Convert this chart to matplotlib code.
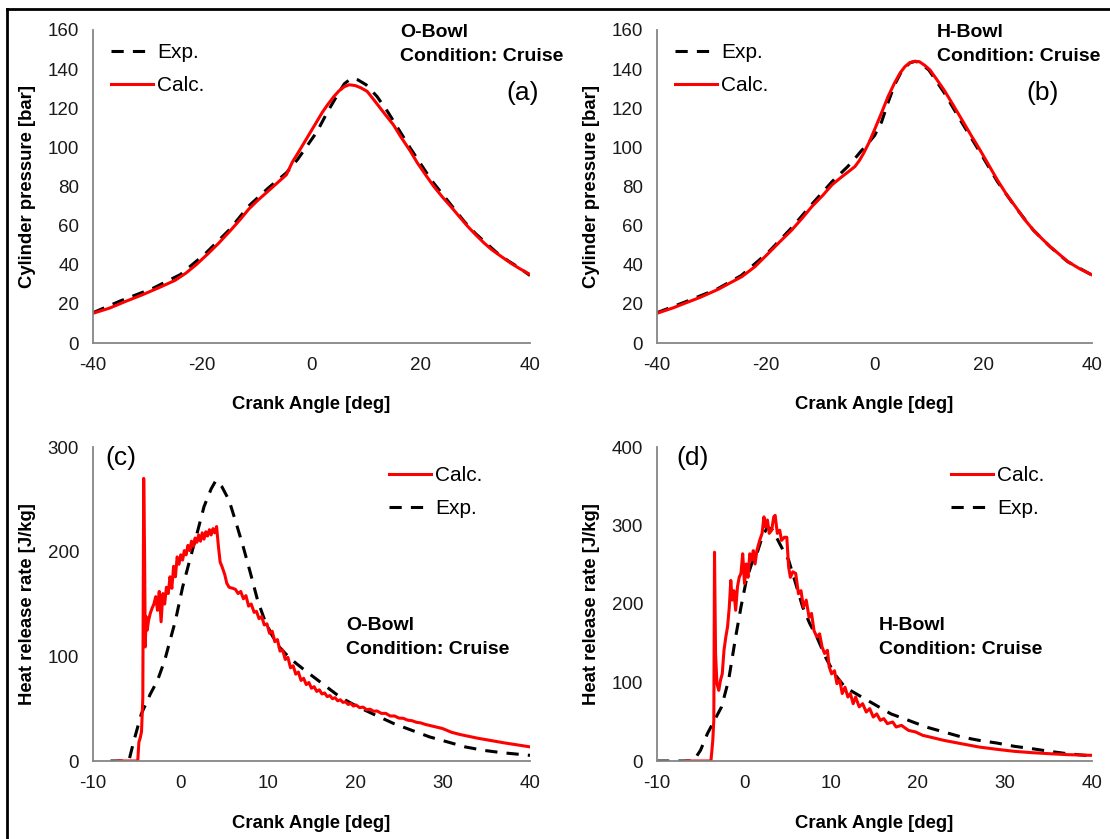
import matplotlib
matplotlib.use("Agg")
import matplotlib.pyplot as plt
from matplotlib.lines import Line2D

plt.rcParams['font.family'] = ['Liberation Sans', 'DejaVu Sans']
plt.rcParams['axes.unicode_minus'] = False

# ---- cylinder pressure, O-Bowl (a) ----
p_o_calc_deg = [-40, -37, -34, -31, -28, -25, -23, -21, -19, -17, -15, -13, -11.5, -10, -8, -6,
                -4.6, -3.5, -2.5, -1, 0.5, 2, 3, 4.1, 5, 6, 6.9, 8, 9, 10.2, 11.5, 13.3, 15,
                16.3, 18, 19.4, 21, 22.4, 24, 25.5, 27, 28.6, 30, 31.6, 33, 34.7, 36.5, 38, 40]
p_o_calc = [15.2, 17.8, 21.3, 24.6, 28.2, 32, 35.7, 40.3, 45.5, 51, 57, 63.3, 68.4, 72.5, 77.5, 82.5,
            86, 92.5, 97, 104, 111, 118, 122, 126, 128.8, 131, 132, 131.6, 130.5, 128.6, 124, 117.5, 111.5,
            105.6, 98.5, 92, 85.5, 80, 74.5, 69.8, 64.8, 59.6, 55.5, 51.1, 47.7, 44.3, 40.8, 38.2, 35]
p_o_exp_deg = [-40, -35, -29, -24, -19.5, -15, -11.5, -8, -4.6, -2.5, -1, 1, 3, 5, 6, 7.3, 8.5, 10,
               12, 14, 16, 18, 20, 22, 24, 26, 28, 30, 32, 34, 36, 38, 40]
p_o_exp = [15.5, 21.5, 28, 35, 45.5, 58, 70, 79, 87, 94, 100, 108, 118.5, 128, 132.5, 135.3, 134.5, 132,
           126, 118, 109, 100, 91.5, 83, 76, 69, 62, 56, 51, 46, 42, 38.5, 34.5]

# ---- cylinder pressure, H-Bowl (b) ----
p_h_calc_deg = [-40, -37, -34.8, -32, -28.7, -26.5, -24.4, -22, -19.5, -17.5, -15.2, -13.3, -11.5, -9.5,
                -7.8, -6, -4.5, -3.6, -2.8, -2, -1, 0, 1.2, 2.5, 3.7, 4.7, 5.6, 6.5, 7.3, 8.25, 9.2, 10.2,
                11.5, 12.8, 14.5, 16.1, 17.8, 19.4, 21, 22.6, 24.2, 25.9, 27.5, 29.2, 30.8, 32.3, 34, 35.5,
                37.7, 40]
p_h_calc = [15.2, 18, 20.4, 23.4, 27.5, 30.8, 33.9, 39, 45.9, 51.5, 57.8, 63.8, 69.8, 75.5,
            80.9, 85, 88.2, 90.2, 93.2, 97, 102.5, 109, 117, 126, 133, 138, 141.3, 143.3, 144, 143.8, 142, 139.6,
            134.5, 129.3, 121.5, 114, 106, 98.7, 91, 83.3, 76.3, 69.8, 63.5, 57.8, 53.3, 49.3, 45.3, 41.7,
            38, 34.8]
p_h_exp_deg = [-40, -35, -29, -24.5, -19.5, -15.2, -11.5, -7.8, -5, -4, -2.5, -1.5, 0, 1.3, 2.5, 3.7, 5,
               6.5, 7.5, 8.5, 10, 12.8, 16.1, 19.4, 22.6, 25.9, 29.2, 32.3, 35.5, 40]
p_h_exp = [15.5, 20.8, 27.5, 34.5, 46.5, 59, 71, 82.5, 90, 93, 98, 101, 106, 113, 123, 132, 139,
           143.2, 144, 143, 139.5, 128, 112.5, 97.5, 82.5, 69.5, 57.7, 49.2, 41.6, 34.7]

# ---- heat release rate, O-Bowl (c) ----
q_o_calc_deg = [-7.1, -4.88, -4.75, -4.6, -4.45, -4.3, -4.2, -4.1, -4.02, -3.93, -3.8, -3.65, -3.45, -3.24,
                -3.03, -2.82, -2.62, -2.42, -2.21, -2.0, -1.8, -1.6, -1.39, -1.19, -0.98, -0.78, -0.57,
                -0.37, -0.16, 0.04, 0.25, 0.45, 0.65, 0.86, 1.07, 1.27, 1.48, 1.68, 1.89, 2.09, 2.3, 2.5,
                2.7, 2.91, 3.11, 3.32, 3.52, 3.73, 3.93, 4.14, 4.35, 4.55, 4.75, 5.08, 5.3, 5.57, 5.98,
                6.3, 6.6, 6.9, 7.21, 7.5, 7.8, 8.1, 8.44, 8.7, 9.0, 9.3, 9.6, 9.9, 10.2, 10.5, 10.8, 11.1,
                11.4, 11.7, 12.0, 12.3, 12.6, 12.9, 13.2, 13.5, 13.8, 14.1, 14.4, 14.7, 15.0, 15.3, 15.6,
                15.9, 16.2, 16.5, 16.8, 17.1, 17.4, 17.7, 18.0, 18.3, 18.6, 18.9, 19.2, 19.5, 19.8, 20.1,
                20.5, 20.9, 21.3, 21.7, 22.1, 22.5, 23, 23.5, 24, 24.5, 25, 25.5, 26, 26.5, 27, 27.5, 28,
                28.5, 29, 29.5, 30, 31, 32, 33, 34, 35, 36, 37, 38, 39, 40]
q_o_calc = [0, 0, 18, 22, 28, 60, 270, 200, 109, 138, 125, 134, 141, 146,
            150, 157, 144, 162, 133, 160, 150, 166, 160, 176, 165, 186, 176,
            195, 188, 197, 192, 201, 197, 206, 201, 210, 205, 213, 209, 216, 210, 218,
            212, 219, 215, 221, 216, 222, 218, 224, 205, 190, 186, 178, 170, 166, 165,
            164, 160, 162, 155, 158, 148, 150, 142, 143, 136, 138, 130, 131, 122, 124, 114, 116,
            105, 106, 97, 99, 89, 91, 83, 85, 77, 79, 73, 75, 69.5, 71, 66.5,
            68, 64, 65, 61.5, 62.5, 59.5, 60.5, 57.5, 58.5, 56, 56.5, 54, 55, 52.5, 53.5,
            51, 51.5, 49, 49.5, 47.5, 47.8, 45.5, 45.5, 43, 43, 41, 40.8, 39, 38.5, 37, 36.4, 35,
            34, 33, 32, 31, 27.5, 25.3, 23.5, 21.8, 20.3, 18.8, 17.4, 16.1, 14.8, 13.5]
q_o_exp_deg = [-8, -5.9, -5.3, -4.47, -3.44, -2.62, -1.8, -1.19, -0.57, 0.25, 1.07, 1.89, 2.7, 3.52,
               4.06, 4.75, 5.57, 6.39, 7.21, 8.03, 8.85, 9.67, 10.49, 11.31, 12.54, 14.18, 16.23, 18.28,
               20.33, 22.38, 24.43, 26.48, 28.52, 30.57, 32.62, 34.67, 36.72, 40]
q_o_exp = [0, 0, 20, 45, 64, 77, 96, 115, 134, 166, 192, 217, 243, 260,
           268, 262, 249, 227, 204, 179, 153, 134, 120, 109, 98, 87, 74, 61,
           51.6, 43.6, 35.7, 29.3, 23, 18.2, 13.4, 10.2, 8, 5.4]

# ---- heat release rate, H-Bowl (d) ----
q_h_calc_deg = [-6.63, -3.8, -3.59, -3.47, -3.39, -3.27, -3.11, -2.9, -2.7, -2.5, -2.3, -2.09, -1.89,
                -1.69, -1.52, -1.36, -1.16, -0.96, -0.75, -0.55, -0.35, -0.15, 0.06, 0.26, 0.46, 0.67,
                0.87, 1.07, 1.27, 1.48, 1.8, 2.08, 2.29, 2.49, 2.69, 2.9, 3.18, 3.42, 3.58, 3.83, 4.11,
                4.31, 4.64, 4.92, 5.13, 5.33, 5.61, 5.94, 6.26, 6.55, 6.83, 7.15, 7.48, 7.76, 8.05, 8.37,
                8.69, 8.98, 9.26, 9.59, 9.79, 10.07, 10.4, 10.68, 11.0, 11.29, 11.61, 11.94, 12.22, 12.55,
                12.83, 13.24, 13.64, 14.05, 14.45, 14.86, 15.26, 15.67, 16.07, 16.48, 17.09, 17.49, 18.1,
                18.91, 19.72, 20.54, 21.35, 22.97, 25.0, 27.02, 29.05, 31.08, 33.1, 35.13, 37.16, 40]
q_h_calc = [0, 0, 26, 52, 266, 137, 98.5, 90, 103, 111, 141, 158, 171,
            196, 230, 205, 217, 192, 222, 234, 239, 264, 226, 251, 234, 264,
            256, 268, 251, 268, 281, 290, 311, 298, 307, 290, 294, 311, 313, 290, 294,
            281, 285, 285, 247, 234, 241, 239, 213, 217, 196, 205, 183, 188, 166, 158,
            162, 145, 137, 141, 120, 111, 115, 98.5, 103, 86, 94, 81.5, 86, 73,
            81.5, 69, 73, 62.4, 66.7, 56, 60, 51.8, 54, 47.6, 49.7, 43.3, 45.4,
            39, 37, 32.7, 30.6, 26.3, 22, 17.8, 14.9, 12.3, 10.6, 9.3, 8.1, 7.2]
q_h_exp_deg = [-10, -5.82, -5.0, -4.2, -3.39, -2.58, -1.77, -0.96, -0.35, 0.26, 0.87, 1.48, 2.08, 2.69,
               3.3, 3.91, 4.52, 5.13, 5.94, 6.75, 7.56, 8.37, 9.38, 10.4, 11.61, 12.83, 14.86, 16.89,
               18.91, 20.94, 22.97, 25.0, 27.02, 29.05, 31.08, 33.1, 35.13, 37.16, 40]
q_h_exp = [0, 0, 13.6, 35, 52, 69, 103, 158, 196, 230, 251, 264, 285, 298,
           294, 281, 268, 256, 226, 196, 175, 158, 132, 111, 94, 86, 73, 60,
           51.8, 43.3, 37, 30.6, 26.3, 22.9, 18.7, 15.7, 12.3, 9.3, 6.4]

W, H = 1110, 839
fig = plt.figure(figsize=(W / 100, H / 100), dpi=100)


def fx(px):
    return px / W


def fy(py):
    return 1 - py / H


RED = '#ff0000'
DASH = (0, (4, 3))
SPINE = '#868686'


def make_axes(left, right, top, bottom):
    ax = fig.add_axes([fx(left), fy(bottom), fx(right) - fx(left), fy(top) - fy(bottom)])
    for s in ('top', 'right'):
        ax.spines[s].set_visible(False)
    for s in ('left', 'bottom'):
        ax.spines[s].set_color(SPINE)
        ax.spines[s].set_linewidth(1.3)
    ax.tick_params(length=0, pad=10, labelsize=13.5, colors='#1a1a1a')
    return ax


def finish(ax, ylabel):
    ax.set_xlabel('Crank Angle [deg]', fontsize=13.3, fontweight='bold', va='center')
    ax.xaxis.set_label_coords(0.5, -0.198)
    ax.set_ylabel(ylabel, fontsize=13.3, fontweight='bold', va='center')
    ax.yaxis.set_label_coords(-0.15, 0.5)


def add_legend(ax, handles, labels, x0, y0):
    ax.legend(handles, labels, loc='upper left', bbox_to_anchor=(fx(x0), fy(y0)),
              bbox_transform=fig.transFigure, frameon=False, borderpad=0, borderaxespad=0,
              fontsize=15, handlelength=2.0, handletextpad=0.2, labelspacing=0.67)


def note(x0, y0, first):
    fig.text(fx(x0), fy(y0), first, fontsize=14, fontweight='bold', va='baseline')
    fig.text(fx(x0), fy(y0 + 24), 'Condition: Cruise', fontsize=14, fontweight='bold', va='baseline')


exp_line = Line2D([], [], color='black', lw=2.2, linestyle=DASH)
calc_line = Line2D([], [], color=RED, lw=2.2)

# (a) O-Bowl pressure
ax = make_axes(93, 530, 30, 343)
ax.plot(p_o_exp_deg, p_o_exp, color='black', lw=2.2, linestyle=DASH)
ax.plot(p_o_calc_deg, p_o_calc, color=RED, lw=2.2)
ax.set_xlim(-40, 40)
ax.set_ylim(0, 160)
ax.set_xticks([-40, -20, 0, 20, 40])
ax.set_yticks(range(0, 161, 20))
finish(ax, 'Cylinder pressure [bar]')
add_legend(ax, [exp_line, calc_line], ['Exp.', 'Calc.'], 111, 43)
note(400, 37, 'O-Bowl')
fig.text(fx(523), fy(93), '(a)', fontsize=19, ha='center', va='center')

# (b) H-Bowl pressure
ax = make_axes(657, 1092, 30, 343)
ax.plot(p_h_exp_deg, p_h_exp, color='black', lw=2.2, linestyle=DASH)
ax.plot(p_h_calc_deg, p_h_calc, color=RED, lw=2.2)
ax.set_xlim(-40, 40)
ax.set_ylim(0, 160)
ax.set_xticks([-40, -20, 0, 20, 40])
ax.set_yticks(range(0, 161, 20))
finish(ax, 'Cylinder pressure [bar]')
add_legend(ax, [exp_line, calc_line], ['Exp.', 'Calc.'], 675, 43)
note(937, 37, 'H-Bowl')
fig.text(fx(1043), fy(93), '(b)', fontsize=19, ha='center', va='center')

# (c) O-Bowl heat release
ax = make_axes(93, 530, 447, 761)
ax.plot(q_o_exp_deg, q_o_exp, color='black', lw=2.2, linestyle=DASH)
ax.plot(q_o_calc_deg, q_o_calc, color=RED, lw=2.2)
ax.set_xlim(-10, 40)
ax.set_ylim(0, 300)
ax.set_xticks(range(-10, 41, 10))
ax.set_yticks(range(0, 301, 100))
finish(ax, 'Heat release rate [J/kg]')
add_legend(ax, [calc_line, exp_line], ['Calc.', 'Exp.'], 389, 466)
note(346, 630, 'O-Bowl')
fig.text(fx(121), fy(458), '(c)', fontsize=19, ha='center', va='center')

# (d) H-Bowl heat release
ax = make_axes(657, 1092, 447, 761)
ax.plot(q_h_exp_deg, q_h_exp, color='black', lw=2.2, linestyle=DASH)
ax.plot(q_h_calc_deg, q_h_calc, color=RED, lw=2.2)
ax.set_xlim(-10, 40)
ax.set_ylim(0, 400)
ax.set_xticks(range(-10, 41, 10))
ax.set_yticks(range(0, 401, 100))
finish(ax, 'Heat release rate [J/kg]')
add_legend(ax, [calc_line, exp_line], ['Calc.', 'Exp.'], 951, 466)
note(879, 630, 'H-Bowl')
fig.text(fx(693), fy(458), '(d)', fontsize=19, ha='center', va='center')

# outer frame, left and top edges
fig.add_artist(Line2D([fx(6.5), fx(6.5)], [0, fy(8.5)], color='black', lw=2))
fig.add_artist(Line2D([fx(6.5), 1], [fy(8.5), fy(8.5)], color='black', lw=2))

fig.savefig('out.png', dpi=100)
